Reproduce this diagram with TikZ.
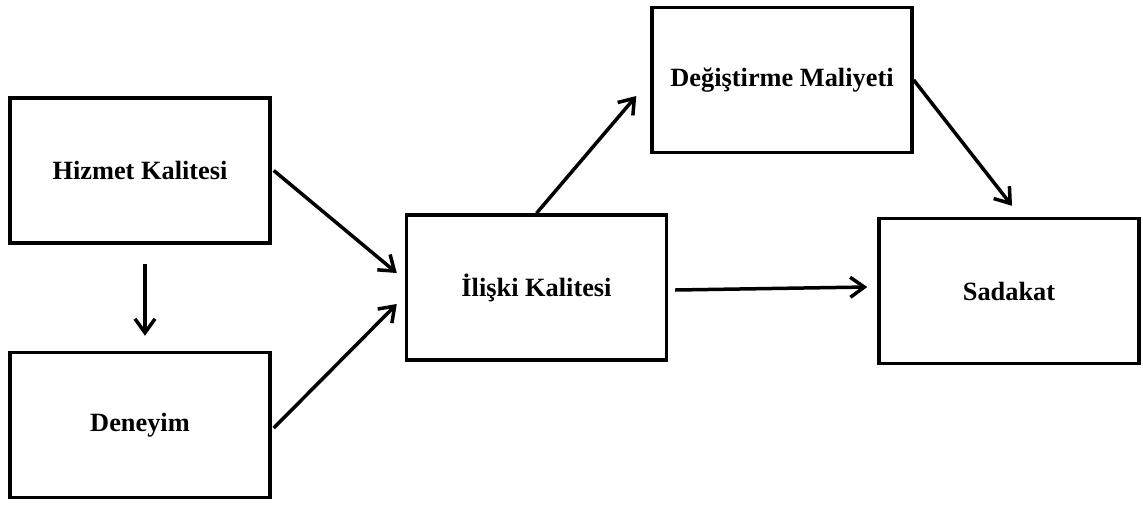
\documentclass[tikz,border=0pt]{standalone}
\usepackage{fontspec}
\setmainfont{Liberation Serif}
\usetikzlibrary{arrows.meta, positioning}

\begin{document}
\begin{tikzpicture}[x = 0.02cm, y = -0.02cm]
		\tikzstyle{boite}=[draw, line width=0.7mm, minimum width=5.2cm,
                  minimum height=2.9cm, inner sep=0pt,
                  font=\fontsize{15}{18}\selectfont\bfseries]
		\tikzstyle{fleche}=[-{Straight Barb[length=2.8mm,width=4mm,line width=0.7mm]}, line width=0.7mm]
                \useasboundingbox (0,0) rectangle (1143,505);
                \node[boite] (hizmet) at (140,170.5) {Hizmet Kalitesi};
                \node[boite] (deneyim) at (140,425) {Deneyim};
                \node[boite] (iliski) at (536.5,287.5) {İlişki Kalitesi};
                \node[boite] (degis) at (782,80) {Değiştirme Maliyeti};
                \node[boite] (sadakat) at (1009,291) {Sadakat};
                \draw[fleche] ([xshift=1mm,yshift=-3.8mm]hizmet.south) --
                  ([xshift=1mm,yshift=3mm]deneyim.north);
                \draw[fleche] ([xshift=0.4mm]hizmet.east) --
                  ([xshift=-1.6mm,yshift=2.9mm]iliski.west);
                \draw[fleche] ([xshift=0.4mm,yshift=-0.6mm]deneyim.east) --
                  ([xshift=-1.6mm,yshift=-3.3mm]iliski.west);
                \draw[fleche] (iliski.north) --
                  ([xshift=-2.8mm,yshift=-3.2mm]degis.west);
                \draw[fleche] (degis.east) --
                  ([xshift=0.6mm,yshift=2.2mm]sadakat.north);
                \draw[fleche] ([xshift=1.4mm,yshift=-0.5mm]iliski.east) --
                  ([xshift=-2mm,yshift=0.8mm]sadakat.west);
	\end{tikzpicture}
\end{document}
